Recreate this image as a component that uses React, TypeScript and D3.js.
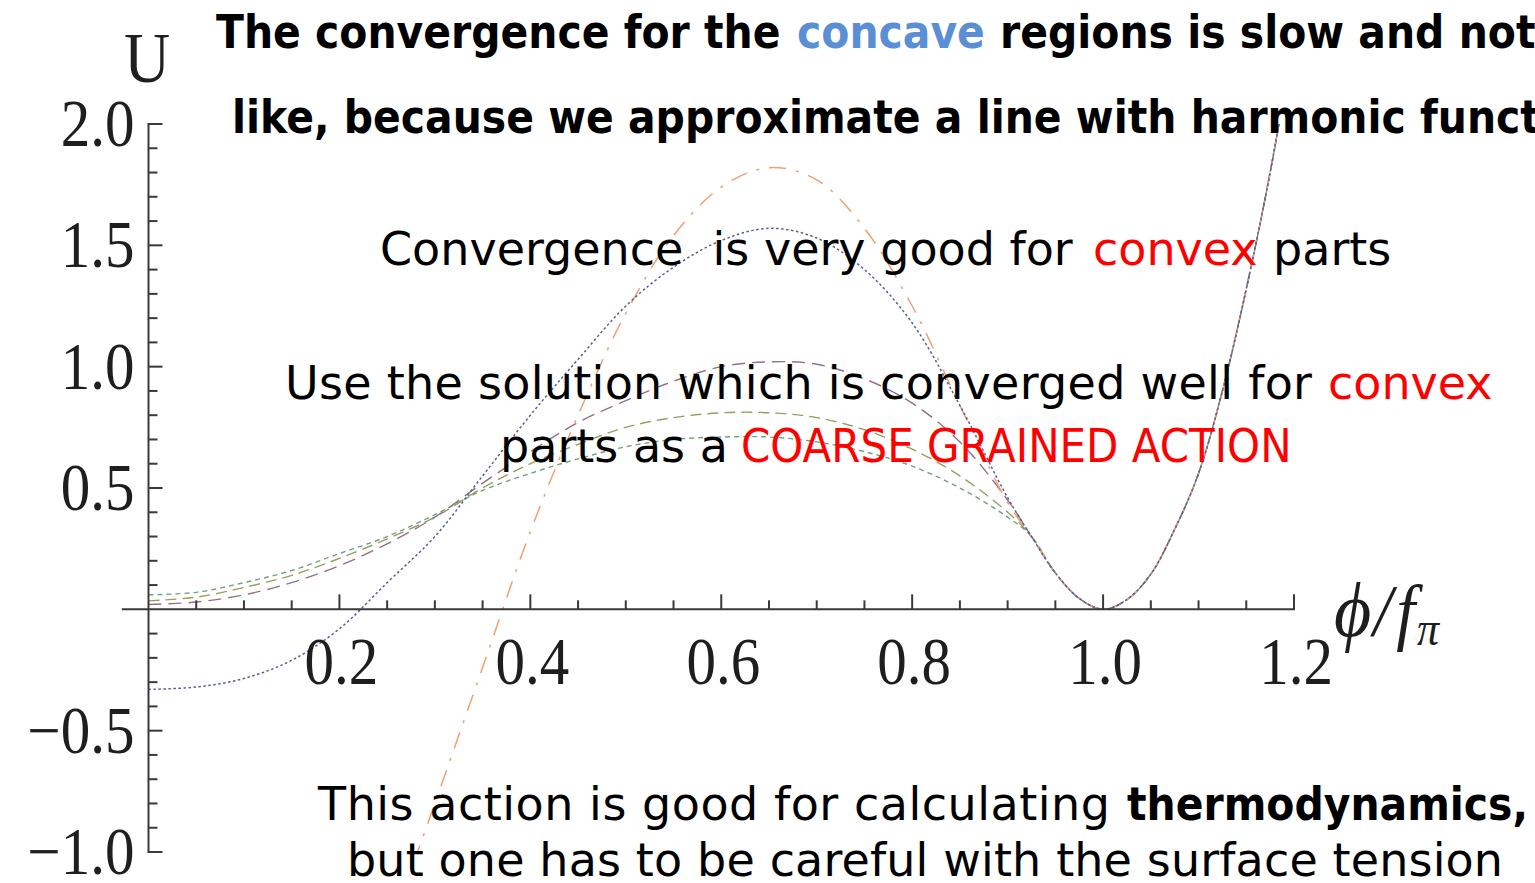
import React from 'react';
import * as d3 from 'd3';

const W = 1535;
const H = 883;

// Field grid φ/fπ: the approximations differ on the head, and coincide on the tail
const phiHead = [0, 0.05, 0.1, 0.15, 0.2, 0.25, 0.3, 0.35, 0.4, 0.45, 0.5, 0.55, 0.6, 0.65, 0.7, 0.75, 0.8, 0.85, 0.9, 0.925];
const phiTail = [0.95, 0.975, 1.0, 1.025, 1.05, 1.075, 1.1, 1.125, 1.15, 1.175, 1.2];

// Shared convex tail of every approximation around the minimum at φ = fπ
const tailU = [0.15, 0.045, 0, 0.04, 0.145, 0.33, 0.56, 0.9, 1.32, 1.8, 2.36];

// Head values of each approximation of U
const shortDashU = [0.06, 0.07, 0.11, 0.16, 0.23, 0.3, 0.39, 0.49, 0.56, 0.62, 0.67, 0.7, 0.71, 0.71, 0.69, 0.65, 0.59, 0.5, 0.38, 0.3];
const oliveDashU = [0.035, 0.05, 0.09, 0.14, 0.21, 0.29, 0.38, 0.5, 0.6, 0.68, 0.75, 0.79, 0.81, 0.81, 0.79, 0.74, 0.66, 0.55, 0.4, 0.3];
const purpleDashU = [0.02, 0.03, 0.06, 0.11, 0.18, 0.27, 0.38, 0.52, 0.65, 0.77, 0.86, 0.94, 1.0, 1.02, 1.01, 0.95, 0.85, 0.69, 0.45, 0.3];
const dashDotU = [null, null, null, null, null, -1.35, -0.8, -0.24, 0.32, 0.8, 1.22, 1.54, 1.74, 1.82, 1.77, 1.57, 1.25, 0.84, 0.44, 0.3];
const dottedU = [-0.33, -0.32, -0.285, -0.21, -0.08, 0.11, 0.3, 0.55, 0.8, 1.03, 1.25, 1.41, 1.52, 1.57, 1.53, 1.4, 1.18, 0.84, 0.46, 0.3];

// Axis ticks
const xMajorTicks = [0.2, 0.4, 0.6, 0.8, 1.0, 1.2];
const xMinorTicks = [0.05, 0.1, 0.15, 0.25, 0.3, 0.35, 0.45, 0.5, 0.55, 0.65, 0.7, 0.75, 0.85, 0.9, 0.95, 1.05, 1.1, 1.15];
const yMajorTicks = [-1.0, -0.5, 0.5, 1.0, 1.5, 2.0];
const yMinorTicks = [-0.9, -0.8, -0.7, -0.6, -0.4, -0.3, -0.2, -0.1, 0.1, 0.2, 0.3, 0.4, 0.6, 0.7, 0.8, 0.9, 1.1, 1.2, 1.3, 1.4, 1.6, 1.7, 1.8, 1.9];

const curveStyles = [
  { name: 'shortDash', values: shortDashU, stroke: '#74a080', dash: '5 4', width: 1.4 },
  { name: 'oliveDash', values: oliveDashU, stroke: '#94a062', dash: '11 6', width: 1.4 },
  { name: 'purpleDash', values: purpleDashU, stroke: '#937088', dash: '13 7', width: 1.4 },
  { name: 'dashDot', values: dashDotU, stroke: '#f0a070', dash: '17 10 3 10', width: 1.5 },
  { name: 'dotted', values: dottedU, stroke: '#55609a', dash: '2.5 2.5', width: 1.5 },
];

const serif = '"Liberation Serif", "DejaVu Serif", serif';
const sans = '"DejaVu Sans", sans-serif';

export default function App() {
  const x = d3.scaleLinear().domain([0, 1.2]).range([148.5, 1294]);
  const y = d3.scaleLinear().domain([-1, 2]).range([852, 124]);
  const phi = [...phiHead, ...phiTail];
  const fmt = d3.format('.1f');

  const line = d3
    .line<[number, number | null]>()
    .defined((d) => d[1] !== null)
    .x((d) => x(d[0]))
    .y((d) => y(d[1] as number))
    .curve(d3.curveCatmullRom.alpha(0.5));

  const x0 = x(0);
  const y0 = y(0);
  const axisColor = '#3a3a3a';

  return (
    <svg
      width={W}
      height={H}
      viewBox={`0 0 ${W} ${H}`}
      style={{ position: 'absolute', left: 0, top: 0, background: '#fff' }}
    >
      <defs>
        <clipPath id="plotClip">
          <rect x={x(-0.03)} y={y(2)} width={x(1.2) - x(-0.03)} height={y(-1) - y(2)} />
        </clipPath>
      </defs>
      <rect width={W} height={H} fill="#fff" />

      {/* curves */}
      <g clipPath="url(#plotClip)" fill="none" strokeLinecap="butt">
        {curveStyles.map((s) => {
          const full = [...s.values, ...tailU];
          const pts: [number, number | null][] = phi.map((p, i) => [p, full[i]]);
          return (
            <path
              key={s.name}
              d={line(pts) || ''}
              stroke={s.stroke}
              strokeWidth={s.width}
              strokeDasharray={s.dash}
            />
          );
        })}
      </g>

      {/* x axis */}
      <g stroke={axisColor} strokeWidth={2}>
        <line x1={x(-0.028)} x2={x(1.2) + 1} y1={y0} y2={y0} />
        {xMajorTicks.map((t) => (
          <line key={'xM' + t} x1={x(t)} x2={x(t)} y1={y0} y2={y0 - 15} />
        ))}
        {xMinorTicks.map((t) => (
          <line key={'xm' + t} x1={x(t)} x2={x(t)} y1={y0} y2={y0 - 9} />
        ))}
      </g>
      {/* y axis */}
      <g stroke={axisColor} strokeWidth={2}>
        <line x1={x0} x2={x0} y1={y(2) - 1} y2={y(-1) + 1} />
        {yMajorTicks.map((t) => (
          <line key={'yM' + t} x1={x0} x2={x0 + 14} y1={y(t)} y2={y(t)} />
        ))}
        {yMinorTicks.map((t) => (
          <line key={'ym' + t} x1={x0} x2={x0 + 9} y1={y(t)} y2={y(t)} />
        ))}
      </g>

      {/* tick labels */}
      <g fontFamily={serif} fontSize={59} fill="#1e1e1e">
        {xMajorTicks.map((t) => (
          <g key={'xl' + t} transform={`translate(${x(t) + 2},${y0 + 75}) scale(1,1.13)`}>
            <text textAnchor="middle">{fmt(t)}</text>
          </g>
        ))}
        {yMajorTicks.map((t) => (
          <g key={'yl' + t} transform={`translate(${x0 - 14},${y(t) + 22}) scale(1,1.13)`}>
            <text textAnchor="end">{fmt(t)}</text>
          </g>
        ))}
      </g>

      {/* axis titles */}
      <g fontFamily={serif} fill="#1e1e1e">
        <g transform={`translate(147,82) scale(1,1.13)`}>
          <text textAnchor="middle" fontSize={64}>U</text>
        </g>
        <g transform={`translate(1334,636) scale(1,1.1)`}>
          <text fontSize={68} fontStyle="italic">
            <tspan fontSize={72}>ϕ</tspan>
            <tspan dx={2}>/</tspan>
            <tspan dx={4}>f</tspan>
            <tspan fontSize={44} dx={2} dy={8}>π</tspan>
          </text>
        </g>
      </g>

      {/* annotations */}
      <g fontFamily={sans} fontSize={46} fill="#000">
        <text transform="translate(216,48) scale(0.89,1)" fontWeight="bold">The convergence for the</text>
        <text transform="translate(797,48) scale(0.89,1)" fontWeight="bold" fill="#5a8fd5">concave</text>
        <text transform="translate(1000,48) scale(0.89,1)" fontWeight="bold">regions is slow and not</text>
        <text transform="translate(232,133) scale(0.89,1)" fontWeight="bold">
          like, because we approximate a line with harmonic functions
        </text>

        <text x={380} y={265}>Convergence{'\u00a0\u00a0'}is very good for</text>
        <text x={1093} y={265} fill="#ff0000">convex</text>
        <text x={1273} y={265}>parts</text>

        <text x={285} y={399} textLength={1027} lengthAdjust="spacing">
          Use the solution which is converged well for
        </text>
        <text x={1328} y={399} fill="#ff0000">convex</text>

        <text x={500} y={462}>parts as a</text>
        <text transform="translate(741,462) scale(0.913,1)" fill="#ff0000">COARSE GRAINED ACTION</text>

        <text x={318} y={820} textLength={792} lengthAdjust="spacing">This action is good for calculating</text>
        <text transform="translate(1127,820) scale(0.89,1)" fontWeight="bold">thermodynamics,</text>

        <text x={347} y={876} textLength={1156} lengthAdjust="spacing">
          but one has to be careful with the surface tension
        </text>
      </g>
    </svg>
  );
}
